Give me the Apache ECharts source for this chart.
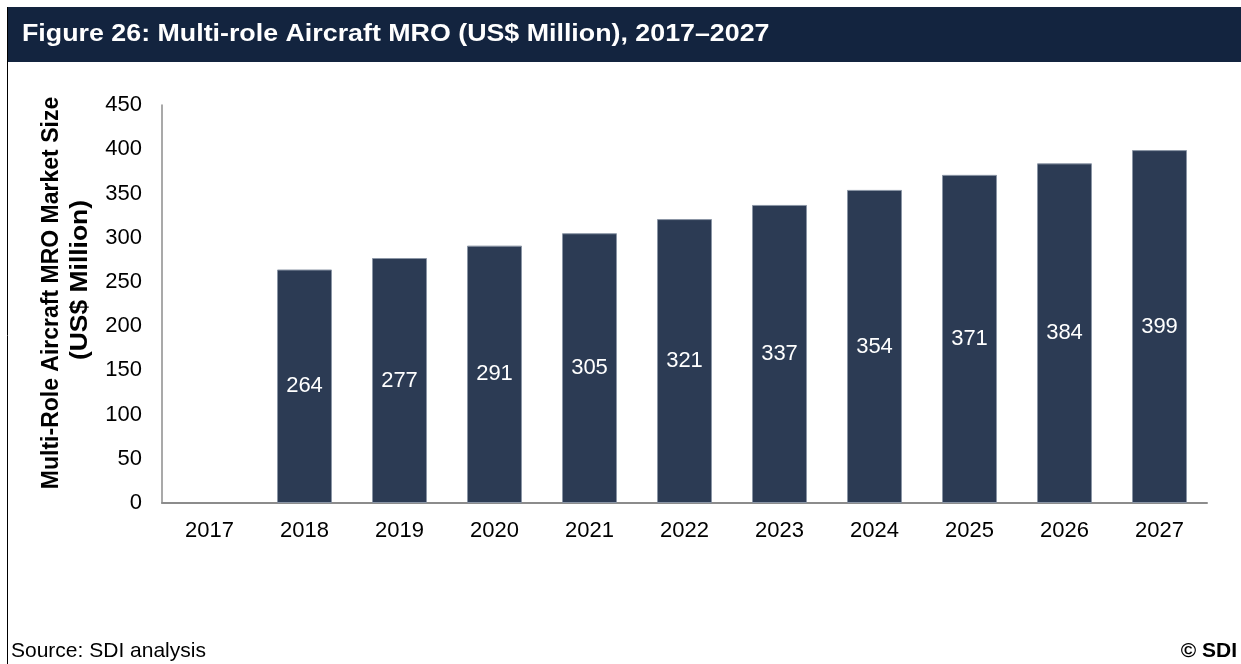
<!DOCTYPE html>
<html>
<head>
<meta charset="utf-8">
<title>Multi-role Aircraft MRO (US$ Million), 2017–2027</title>
<script src="https://cdn.jsdelivr.net/npm/echarts@6/dist/echarts.min.js"></script>
<style>
  html, body { margin: 0; padding: 0; background: #ffffff; }
  #chart { width: 1241px; height: 664px; }
</style>
</head>
<body>
<div id="chart"></div>
<script>
// Market size by year (US$ million); 2017 has no bar
const years = ['2017', '2018', '2019', '2020', '2021', '2022', '2023', '2024', '2025', '2026', '2027'];
const marketSize = [null, 264, 277, 291, 305, 321, 337, 354, 371, 384, 399];
const yTicks = { min: 0, max: 450, interval: 50 };

const titleText = 'Figure 26: Multi-role Aircraft MRO (US$ Million), 2017–2027';
const yNameLines = ['Multi-Role Aircraft MRO Market Size', '(US$ Million)'];
const sourceText = 'Source: SDI analysis';
const copyrightText = '© SDI';

const FONT = '"Liberation Sans", Arial, sans-serif';

const chart = echarts.init(document.getElementById('chart'), null, { renderer: 'canvas' });

chart.setOption({
  backgroundColor: '#ffffff',
  animation: false,
  textStyle: { fontFamily: FONT },
  grid: { left: 162, right: 34, top: 105, bottom: 161, containLabel: false },
  xAxis: {
    type: 'category',
    data: years,
    axisLine: { show: true, lineStyle: { color: '#8c8c8c', width: 2 } },
    axisTick: { show: false },
    axisLabel: { color: '#000000', fontSize: 22, fontFamily: FONT, margin: 17 }
  },
  yAxis: {
    type: 'value',
    min: yTicks.min,
    max: yTicks.max,
    interval: yTicks.interval,
    axisLine: { show: true, lineStyle: { color: '#8c8c8c', width: 1.5 } },
    axisTick: { show: false },
    splitLine: { show: false },
    axisLabel: { color: '#000000', fontSize: 22, fontFamily: FONT, margin: 20 }
  },
  series: [{
    type: 'bar',
    data: marketSize,
    barWidth: 55,
    itemStyle: { color: '#2c3b54', borderColor: '#8a95a5', borderWidth: 1 },
    label: {
      show: true,
      position: 'inside',
      color: '#ffffff',
      fontSize: 22,
      fontFamily: FONT
    }
  }],
  graphic: [
    // header band
    {
      type: 'rect',
      left: 7, top: 7,
      shape: { width: 1241 - 7, height: 55 },
      style: { fill: '#13243f' },
      silent: true
    },
    {
      type: 'text',
      x: 22, y: 35,
      scaleX: 1.165,
      style: {
        text: titleText,
        fill: '#ffffff',
        font: 'bold 23px ' + FONT,
        verticalAlign: 'middle'
      }
    },
    // left frame line
    {
      type: 'line',
      shape: { x1: 7.5, y1: 7, x2: 7.5, y2: 664 },
      style: { stroke: '#000000', lineWidth: 1 }
    },
    // rotated y-axis title, two lines
    {
      type: 'text',
      x: 52, y: 293,
      rotation: Math.PI / 2,
      style: {
        text: yNameLines[0],
        fill: '#000000',
        font: 'bold 23px ' + FONT,
        align: 'center',
        verticalAlign: 'middle'
      }
    },
    {
      type: 'text',
      x: 81, y: 280,
      rotation: Math.PI / 2,
      scaleX: 1.15,
      style: {
        text: yNameLines[1],
        fill: '#000000',
        font: 'bold 23px ' + FONT,
        align: 'center',
        verticalAlign: 'middle'
      }
    },
    // footer
    {
      type: 'text',
      x: 11, y: 651,
      style: { text: sourceText, fill: '#000000', font: '21px ' + FONT, verticalAlign: 'middle' }
    },
    {
      type: 'text',
      x: 1237, y: 651,
      style: { text: copyrightText, fill: '#000000', font: 'bold 21px ' + FONT, align: 'right', verticalAlign: 'middle' }
    }
  ]
});
</script>
</body>
</html>
